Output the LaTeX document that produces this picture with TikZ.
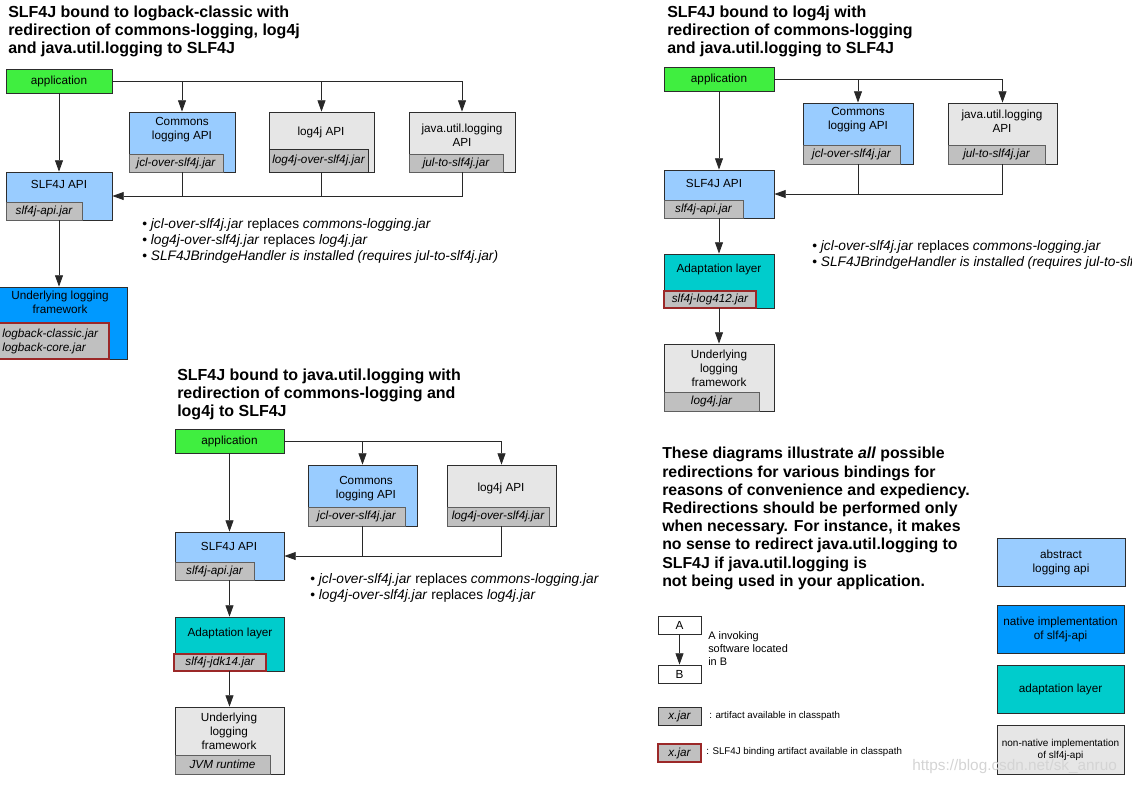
\documentclass[tikz,border=0pt]{standalone}
\usepackage{fontspec}
\setmainfont{Liberation Sans}
\usetikzlibrary{arrows.meta,fit}

\definecolor{appgreen}{RGB}{64,238,64}
\definecolor{apiblue}{RGB}{153,204,255}
\definecolor{nativeblue}{RGB}{0,153,255}
\definecolor{adaptcyan}{RGB}{0,204,204}
\definecolor{nonnative}{RGB}{230,230,230}
\definecolor{jargray}{RGB}{192,192,192}
\definecolor{boxline}{RGB}{45,45,45}
\definecolor{jarline}{RGB}{95,95,95}
\definecolor{bindred}{RGB}{155,40,40}
\definecolor{wirecol}{RGB}{40,40,40}
\definecolor{markgray}{RGB}{212,212,212}

\newcommand\headfont{\fontsize{12}{13.5}\selectfont\bfseries}
\newcommand\boxfont{\fontsize{8.8}{10.5}\selectfont}
\newcommand\jarfont{\fontsize{8.8}{10.5}\selectfont\itshape}
\newcommand\bulletfont{\fontsize{10.3}{12}\selectfont}
\newcommand\parafont{\fontsize{11.9}{13.65}\selectfont\bfseries}
\newcommand\legendfont{\fontsize{8.2}{9.4}\selectfont}
\newcommand\legsmallfont{\fontsize{7.3}{8}\selectfont}

\tikzset{
  box/.style={draw=boxline, line width=0.6pt, inner sep=0pt},
  jar/.style={draw=jarline, fill=jargray, line width=0.6pt, inner sep=0pt},
  redjar/.style={jar, draw=bindred, line width=0.9pt},
  lbl/.style={inner sep=0pt, align=center, font=\boxfont},
  jartxt/.style={inner sep=0pt, align=center, font=\jarfont},
  head/.style={inner sep=0pt, align=left, font=\headfont},
  bullets/.style={inner sep=0pt, align=left, font=\bulletfont},
  wire/.style={draw=wirecol, line width=0.6pt},
  arr/.style={wire, -{Triangle[length=8.5pt,width=6pt]}},
}

\begin{document}
\begin{tikzpicture}[x=0.75pt,y=-0.75pt]
\useasboundingbox (0,0) rectangle (1132,786);

% logback-classic
\node[head, anchor=west] (headL) at (8,31) {SLF4J bound to logback-classic with\\redirection of commons-logging, log4j\\and java.util.logging to SLF4J};
\node[box, fill=appgreen, fit={(6,69) (112,93)}] (appL) {};
\node[lbl] (appLtxt) at (appL) {application};
\node[box, fill=apiblue, fit={(129,112) (235,172)}] (clL) {};
\node[jar, fit={(129,154) (223,172)}] (clLjar) {};
\node[jartxt] (clLjartxt) at (clLjar) {jcl-over-slf4j.jar};
\node[lbl] (clLtxt) at (182,130) {Commons\\logging API};
\node[box, fill=nonnative, fit={(269,112) (374,172)}] (l4L) {};
\node[jar, draw=boxline, fit={(269,149) (368,172)}] (l4Ljar) {};
\node[jartxt] (l4Ljartxt) at (l4Ljar) {log4j-over-slf4j.jar};
\node[lbl] (l4Ltxt) at (321,132) {log4j API};
\node[box, fill=nonnative, fit={(409,112) (515,172)}] (julL) {};
\node[jar, fit={(409,154) (503,172)}] (julLjar) {};
\node[jartxt] (julLjartxt) at (julLjar) {jul-to-slf4j.jar};
\node[lbl] (julLtxt) at (462,135.5) {java.util.logging\\API};
\node[box, fill=apiblue, fit={(6,172) (112,220)}] (slfL) {};
\node[jar, fit={(6,202) (82,220)}] (slfLjar) {};
\node[jartxt] (slfLjartxt) at (slfLjar) {slf4j-api.jar};
\node[lbl] (slfLtxt) at (59,184) {SLF4J API};
\node[box, fill=nativeblue, fit={(-2,287) (127,359)}] (undL) {};
\node[redjar, fit={(-2,323) (109,359)}] (undLjar) {};
\node[jartxt, align=left, anchor=west] (undLjartxt) at (2,341) {logback-classic.jar\\logback-core.jar};
\node[lbl] (undLtxt) at (60,302.5) {Underlying logging\\framework};
\draw[arr] (appL.south) -- (slfL.north);
\draw[arr] (appL.east) -| (julL.north);
\draw[arr] (appL.east -| clL.north) -- (clL.north);
\draw[arr] (appL.east -| l4L.north) -- (l4L.north);
\draw[arr] (julL.south) |- (slfL.east);
\draw[wire] (clL.south) -- (clL.south |- slfL.east);
\draw[wire] (l4L.south) -- (l4L.south |- slfL.east);
\draw[arr] (slfL.south) -- (slfL.south |- undL.north);
\node[bullets, anchor=west] (notesL) at (142,241) {• \textit{jcl-over-slf4j.jar} replaces \textit{commons-logging.jar}\\• \textit{log4j-over-slf4j.jar} replaces \textit{log4j.jar}\\• \textit{SLF4JBrindgeHandler is installed (requires jul-to-slf4j.jar)}};

% log4j
\node[head, anchor=west] (headR) at (667,31) {SLF4J bound to log4j with\\redirection of commons-logging\\and java.util.logging to SLF4J};
\node[box, fill=appgreen, fit={(664,67) (774,91)}] (appR) {};
\node[lbl] (appRtxt) at (appR) {application};
\node[box, fill=apiblue, fit={(803,103) (913,164)}] (clR) {};
\node[jar, fit={(803,145) (900,164)}] (clRjar) {};
\node[jartxt] (clRjartxt) at (clRjar) {jcl-over-slf4j.jar};
\node[lbl] (clRtxt) at (858,120) {Commons\\logging API};
\node[box, fill=nonnative, fit={(948,103) (1057,164)}] (julR) {};
\node[jar, fit={(948,145) (1045,164)}] (julRjar) {};
\node[jartxt] (julRjartxt) at (julRjar) {jul-to-slf4j.jar};
\node[lbl] (julRtxt) at (1002,121.5) {java.util.logging\\API};
\node[box, fill=apiblue, fit={(664,170) (774,218)}] (slfR) {};
\node[jar, fit={(664,200) (743,218)}] (slfRjar) {};
\node[jartxt] (slfRjartxt) at (slfRjar) {slf4j-api.jar};
\node[lbl] (slfRtxt) at (714,183) {SLF4J API};
\node[box, fill=adaptcyan, fit={(664,254) (774,308)}] (adaR) {};
\node[redjar, fit={(664,291) (756,308)}] (adaRjar) {};
\node[jartxt] (adaRjartxt) at (adaRjar) {slf4j-log412.jar};
\node[lbl] (adaRtxt) at (719,269) {Adaptation layer};
\node[box, fill=nonnative, fit={(664,344) (774,411)}] (undR) {};
\node[jar, fit={(664,392) (759,411)}] (undRjar) {};
\node[jartxt] (undRjartxt) at (undRjar) {log4j.jar};
\node[lbl] (undRtxt) at (719,368) {Underlying\\logging\\framework};
\draw[arr] (appR.south) -- (slfR.north);
\draw[arr] (appR.east) -| (julR.north);
\draw[arr] (appR.east -| clR.north) -- (clR.north);
\draw[arr] (julR.south) |- (slfR.east);
\draw[wire] (clR.south) -- (clR.south |- slfR.east);
\draw[arr] (slfR.south) -- (adaR.north);
\draw[arr] (adaR.south) -- (undR.north);
\node[bullets, anchor=west] (notesR) at (812,255) {• \textit{jcl-over-slf4j.jar} replaces \textit{commons-logging.jar}\\• \textit{SLF4JBrindgeHandler is installed (requires jul-to-slf4j.jar)}};

% java.util.logging
\node[head, anchor=west] (headJ) at (177,394) {SLF4J bound to java.util.logging with\\redirection of commons-logging and\\log4j to SLF4J};
\node[box, fill=appgreen, fit={(175,429) (284,453)}] (appJ) {};
\node[lbl] (appJtxt) at (appJ) {application};
\node[box, fill=apiblue, fit={(308,465) (417,526)}] (clJ) {};
\node[jar, fit={(308,507) (405,526)}] (clJjar) {};
\node[jartxt] (clJjartxt) at (clJjar) {jcl-over-slf4j.jar};
\node[lbl] (clJtxt) at (366,488.5) {Commons\\logging API};
\node[box, fill=nonnative, fit={(447,465) (556,526)}] (l4J) {};
\node[jar, fit={(447,507) (549,526)}] (l4Jjar) {};
\node[jartxt] (l4Jjartxt) at (l4Jjar) {log4j-over-slf4j.jar};
\node[lbl] (l4Jtxt) at (501,488) {log4j API};
\node[box, fill=apiblue, fit={(175,532) (284,580)}] (slfJ) {};
\node[jar, fit={(175,562) (254,580)}] (slfJjar) {};
\node[jartxt] (slfJjartxt) at (slfJjar) {slf4j-api.jar};
\node[lbl] (slfJtxt) at (229,546) {SLF4J API};
\node[box, fill=adaptcyan, fit={(175,617) (284,671)}] (adaJ) {};
\node[redjar, fit={(174,654) (266,671)}] (adaJjar) {};
\node[jartxt] (adaJjartxt) at (adaJjar) {slf4j-jdk14.jar};
\node[lbl] (adaJtxt) at (230,633) {Adaptation layer};
\node[box, fill=nonnative, fit={(175,707) (284,774)}] (undJ) {};
\node[jar, fit={(175,755) (270,774)}] (undJjar) {};
\node[jartxt] (undJjartxt) at (undJjar) {JVM runtime};
\node[lbl] (undJtxt) at (229,731) {Underlying\\logging\\framework};
\draw[arr] (appJ.south) -- (slfJ.north);
\draw[arr] (appJ.east) -| (l4J.north);
\draw[arr] (appJ.east -| clJ.north) -- (clJ.north);
\draw[arr] (l4J.south) |- (slfJ.east);
\draw[wire] (clJ.south) -- (clJ.south |- slfJ.east);
\draw[arr] (slfJ.south) -- (adaJ.north);
\draw[arr] (adaJ.south) -- (undJ.north);
\node[bullets, anchor=west] (notesJ) at (310,588) {• \textit{jcl-over-slf4j.jar} replaces \textit{commons-logging.jar}\\• \textit{log4j-over-slf4j.jar} replaces \textit{log4j.jar}};

% remark
\node[inner sep=0pt, align=left, font=\parafont, anchor=west] (remark) at (662,518.5) {These diagrams illustrate \textit{all} possible\\redirections for various bindings for\\reasons of convenience and expediency.\\Redirections should be performed only\\when necessary. For instance, it makes\\no sense to redirect java.util.logging to\\SLF4J if java.util.logging is\\not being used in your application.};

% legend
\node[box, fill=white, fit={(658,616) (701,634)}] (legA) {};
\node[lbl] (legAtxt) at (legA) {A};
\node[box, fill=white, fit={(658,665) (701,683)}] (legB) {};
\node[lbl] (legBtxt) at (legB) {B};
\draw[arr] (legA.south) -- (legB.north);
\node[inner sep=0pt, align=left, font=\legendfont, anchor=west] (legAB) at (708,648.5) {A invoking\\software located\\in B};
\node[jar, draw=boxline, fit={(658,707) (701,725)}] (legjar) {};
\node[jartxt] (legjartxt) at (legjar) {x.jar};
\node[inner sep=0pt, font=\legsmallfont, anchor=west] (legjarnote) at (709,716) {: artifact available in classpath};
\node[redjar, fit={(658,744) (701,762)}] (legbind) {};
\node[jartxt] (legbindtxt) at (legbind) {x.jar};
\node[inner sep=0pt, font=\legsmallfont, anchor=west] (legbindnote) at (706,752) {: SLF4J binding artifact available in classpath};
\node[box, fill=apiblue, fit={(997,538) (1125,586)}] (keyapi) {};
\node[lbl] (keyapitxt) at (keyapi) {abstract\\logging api};
\node[box, fill=nativeblue, fit={(997,605) (1124,653)}] (keynative) {};
\node[lbl] (keynativetxt) at (keynative) {native implementation\\of slf4j-api};
\node[box, fill=adaptcyan, fit={(997,665) (1124,713)}] (keyadapt) {};
\node[lbl] (keyadapttxt) at (keyadapt) {adaptation layer};
\node[box, fill=nonnative, fit={(997,725) (1124,774)}] (keynon) {};
\node[lbl, font=\fontsize{7.5}{9}\selectfont] (keynontxt) at (keynon) {non-native implementation\\of slf4j-api};
\node[inner sep=0pt, text=markgray, font=\fontsize{11.5}{13}\selectfont, anchor=west] (wmark) at (912,767) {https://blog.csdn.net/sk\_anruo};
\end{tikzpicture}
\end{document}
